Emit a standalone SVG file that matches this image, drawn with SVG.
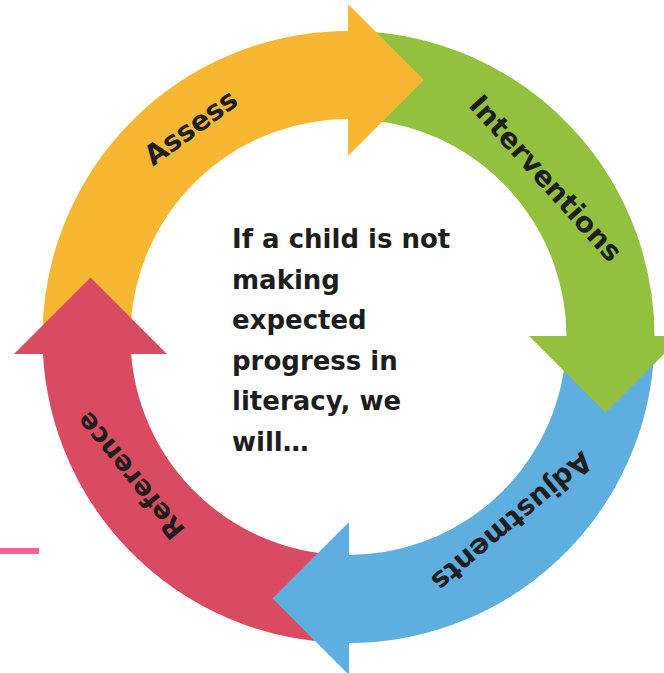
<svg xmlns="http://www.w3.org/2000/svg" width="664" height="673" viewBox="0 0 664 673">
<style>
.shaft{fill:none;stroke-width:88;stroke-linecap:butt}
.lbl{font-family:"DejaVu Sans","Liberation Sans",sans-serif;font-weight:bold;font-size:28px;fill:#1d1d1d;text-anchor:middle}
.body{font-family:"DejaVu Sans","Liberation Sans",sans-serif;font-weight:bold;font-size:26px;fill:#1d1d1d}
</style>
<rect width="664" height="673" fill="#ffffff"/>
<rect x="0" y="548" width="39" height="6" fill="#ff5e98"/>
<g id="connectors">
<path id="shaft-assess" class="shaft" stroke="#f8b733" d="M86.5,337 A262,262 0 0 1 357.64,75.16"/>
<path id="shaft-interventions" class="shaft" stroke="#93c13f" d="M357.64,75.16 A262,262 0 0 1 610.34,346.14"/>
<path id="shaft-adjustments" class="shaft" stroke="#5eaedf" d="M610.34,346.14 A262,262 0 0 1 339.36,598.84"/>
<path id="shaft-reference" class="shaft" stroke="#d94b61" d="M339.36,598.84 A262,262 0 0 1 86.5,337"/>
<polygon id="head-assess" fill="#f8b733" points="348,156 348,4 424,80"/>
<polygon id="head-interventions" fill="#93c13f" points="529,336 682,336 605.5,412.5"/>
<polygon id="head-adjustments" fill="#5eaedf" points="349,522 349,675 272.5,598.5"/>
<polygon id="head-reference" fill="#d94b61" points="14,354 167,354 90.5,277.5"/>
</g>
<g id="assess" transform="translate(191,128) rotate(-36)"><text class="lbl" x="0" y="9">Assess</text></g>
<g id="interventions" transform="translate(546,178) rotate(48)"><text class="lbl" x="0" y="10">Interventions</text></g>
<g id="adjustments" transform="translate(512,522) rotate(140)"><text class="lbl" x="0" y="10">Adjustments</text></g>
<g id="reference" transform="translate(130,476) rotate(231)"><text class="lbl" x="0" y="10" style="font-size:27px">Reference</text></g>
<g id="center-text">
<text class="body" x="232" y="248">If a child is not</text>
<text class="body" x="232" y="288.5">making</text>
<text class="body" x="232" y="329">expected</text>
<text class="body" x="232" y="369.5">progress in</text>
<text class="body" x="232" y="410">literacy, we</text>
<text class="body" x="232" y="450.5">will…</text>
</g>
</svg>
